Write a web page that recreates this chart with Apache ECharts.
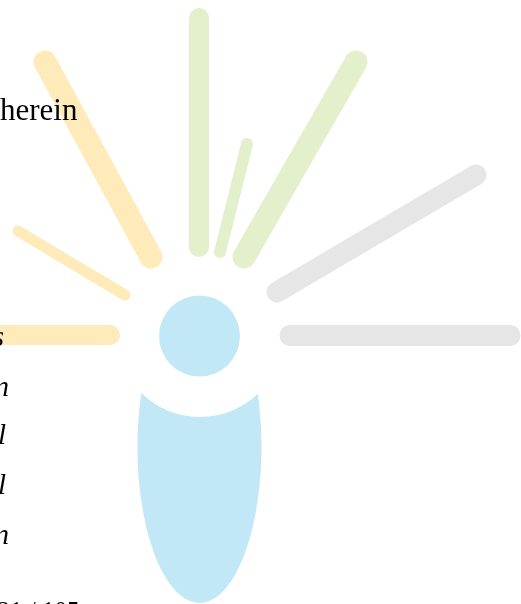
<!DOCTYPE html>
<html><head><meta charset="utf-8">
<script src="https://cdn.jsdelivr.net/npm/echarts@6/dist/echarts.min.js"></script>
<style>html,body{margin:0;padding:0;background:#fff}#c{width:521px;height:604px}</style>
</head><body><div id="c"></div>
<script>
// Ray centre-line endpoints [x1, y1, x2, y2] (in chart units = pixels of the page)
var yellowRays = [[45, 62, 151, 257], [18, 231, 125, 295], [-20, 335, 110, 335]];
var greenRays  = [[199, 18, 199, 247], [247, 144, 220, 252], [356, 62, 244, 257]];
var grayRays   = [[277, 292, 476, 175], [290, 335.5, 510, 335.5]];
var yellowWidths = [23, 11, 20];
var greenWidths  = [20, 12, 23];
var grayWidths   = [21, 21];
// Head: [cx, cy]
var head = [[199.5, 336]];
// Body ellipse [cx, cy, rx, ry] and the circle cut out of its top [cx, cy, r]
var bodyEllipse = [[199.5, 447, 62, 156]];
var bodyCut = [200, 333, 84];
// Page text fragments
var textLines = ['herein'];
var marginGlyphs = ['s', 'n', 'l', 'l', 'n'];
var footerText = '21 / 105';

var YELLOW = '#FEEBB9', GREEN = '#E4EFCB', GRAY = '#E6E6E6', BLUE = '#C2E8F7';

function raySeries(data, widths, color) {
  return {
    type: 'custom', coordinateSystem: 'cartesian2d', clip: false, silent: true,
    encode: {x: [0, 2], y: [1, 3]},
    data: data,
    renderItem: function (params, api) {
      var p1 = api.coord([api.value(0), api.value(1)]);
      var p2 = api.coord([api.value(2), api.value(3)]);
      return {
        type: 'line',
        shape: {x1: p1[0], y1: p1[1], x2: p2[0], y2: p2[1]},
        style: {stroke: color, lineWidth: widths[params.dataIndex], lineCap: 'round', fill: null}
      };
    }
  };
}

function glyph(ch, x, y) {
  return {type: 'text', x: x, y: y, z: 100, silent: true,
    style: {text: ch, align: 'right', verticalAlign: 'middle', font: 'italic 29px "Liberation Serif"', fill: '#000'}};
}

var chart = echarts.init(document.getElementById('c'), null, {renderer: 'canvas'});
chart.setOption({
  animation: false,
  backgroundColor: '#ffffff',
  grid: {left: 0, right: 0, top: 0, bottom: 0},
  xAxis: {type: 'value', min: 0, max: 521, show: false},
  yAxis: {type: 'value', min: 0, max: 604, inverse: true, show: false},
  series: [
    {
      type: 'custom', coordinateSystem: 'cartesian2d', clip: false, silent: true,
      encode: {x: 0, y: 1},
      data: bodyEllipse,
      renderItem: function (params, api) {
        var c = api.coord([api.value(0), api.value(1)]);
        var o = api.coord([0, 0]);
        var s = api.coord([api.value(2), api.value(3)]);
        var rx = s[0] - o[0], ry = s[1] - o[1];
        var cc = api.coord([bodyCut[0], bodyCut[1]]);
        var r = api.coord([bodyCut[2], 0])[0] - o[0];
        function pt(t) { return [c[0] + rx * Math.cos(t), c[1] + ry * Math.sin(t)]; }
        function d(t) { var p = pt(t); return Math.hypot(p[0] - cc[0], p[1] - cc[1]) - r; }
        function solve(a, b) {
          for (var i = 0; i < 60; i++) {
            var m = (a + b) / 2;
            if ((d(a) < 0) === (d(m) < 0)) a = m; else b = m;
          }
          return (a + b) / 2;
        }
        var R = pt(solve(-Math.PI / 2, 0));
        var L = pt(solve(-Math.PI / 2, -Math.PI));
        var path = 'M' + L[0] + ' ' + L[1] +
          ' A' + r + ' ' + r + ' 0 0 0 ' + R[0] + ' ' + R[1] +
          ' A' + rx + ' ' + ry + ' 0 1 1 ' + L[0] + ' ' + L[1] + ' Z';
        return {type: 'path', shape: {pathData: path}, style: {fill: BLUE}};
      }
    },
    raySeries(yellowRays, yellowWidths, YELLOW),
    raySeries(greenRays, greenWidths, GREEN),
    raySeries(grayRays, grayWidths, GRAY),
    {
      type: 'scatter', silent: true, symbol: 'circle', symbolSize: 81,
      itemStyle: {color: BLUE, opacity: 1}, data: head
    }
  ],
  graphic: [
    {type: 'text', x: 0, y: 112, z: 100, silent: true,
     style: {text: textLines[0], verticalAlign: 'middle', font: '31px "Liberation Serif"', fill: '#000'}},
    glyph(marginGlyphs[0], 4, 338),
    glyph(marginGlyphs[1], 9, 388),
    glyph(marginGlyphs[2], 6, 436),
    glyph(marginGlyphs[3], 6, 486),
    glyph(marginGlyphs[4], 9, 536),
    {type: 'text', x: -2.5, y: 612, z: 100, silent: true,
     style: {text: footerText, align: 'left', verticalAlign: 'middle', font: '25px "Liberation Serif"', fill: '#000'}}
  ]
});
</script></body></html>
